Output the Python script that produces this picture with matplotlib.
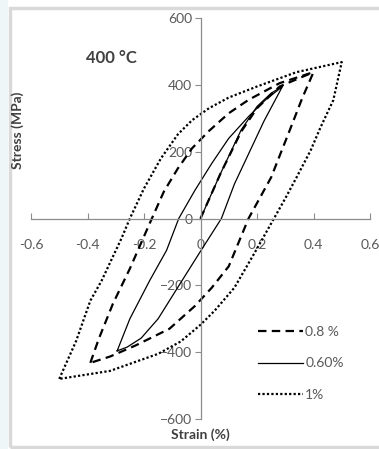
import matplotlib
matplotlib.use('Agg')
from matplotlib import pyplot as plt
from matplotlib.patches import Rectangle

plt.rcParams['font.family'] = ['Lato', 'DejaVu Sans']

# 0.60 % loop (solid)
solid_init_x = [0.0, 0.07, 0.144, 0.2, 0.25, 0.29]
solid_init_y = [0, 133, 265, 335, 375, 395]
solid_up_x = [-0.295, -0.25, -0.18, -0.12, -0.077, -0.02, 0.04, 0.1, 0.17, 0.23, 0.29]
solid_up_y = [-396, -300, -186, -95, 0, 84, 165, 240, 305, 355, 395]
solid_dn_x = [0.29, 0.225, 0.12, 0.074, 0.0, -0.067, -0.15, -0.21, -0.26, -0.295]
solid_dn_y = [395, 292, 103, 0, -98, -188, -300, -358, -385, -396]

# 0.8 % loop (dashed)
dash_init_x = [0.0, 0.07, 0.144, 0.2, 0.28, 0.4]
dash_init_y = [0, 133, 260, 330, 395, 438]
dash_up_x = [-0.39, -0.36, -0.31, -0.25, -0.18, -0.13, -0.08, -0.03, 0.03, 0.1, 0.17, 0.28, 0.40]
dash_up_y = [-432, -360, -255, -150, -15, 80, 150, 210, 262, 315, 355, 405, 438]
dash_dn_x = [0.40, 0.36, 0.32, 0.25, 0.17, 0.1, 0.04, -0.02, -0.11, -0.23, -0.32, -0.39]
dash_dn_y = [438, 360, 273, 123, 0, -143, -207, -262, -330, -380, -413, -432]

# 1 % loop (dotted)
dot_up_x = [-0.50, -0.44, -0.39, -0.35, -0.28, -0.25, -0.2, -0.14, -0.08, -0.03, 0.03, 0.1, 0.2, 0.34, 0.50]
dot_up_y = [-480, -366, -246, -186, -60, 0, 90, 180, 252, 294, 330, 362, 395, 438, 468]
dot_dn_x = [0.50, 0.47, 0.425, 0.39, 0.34, 0.30, 0.26, 0.19, 0.12, 0.05, 0.0, -0.07, -0.15, -0.32, -0.50]
dot_dn_y = [468, 354, 273, 204, 123, 60, 0, -105, -207, -276, -318, -368, -405, -456, -480]

labels = ['0.8 %', '0.60%', '1%']

fig = plt.figure(figsize=(3.79, 4.49), dpi=100)
# chart area border like the spreadsheet export
fig.patches.append(Rectangle((0, 0), 8 / 379, 1, transform=fig.transFigure,
                             facecolor='#eef6f8', edgecolor='none', zorder=0))
fig.patches.append(Rectangle((10 / 379, 2 / 449), 1.0, 1 - 10 / 449, transform=fig.transFigure,
                             facecolor='none', edgecolor='#d9d9d9', lw=2.5, zorder=0))

ax = fig.add_axes([31 / 379, 30 / 449, 339 / 379, 401 / 449])
ax.set_xlim(-0.6, 0.6)
ax.set_ylim(-600, 600)

dash_style = (0, (3.8, 2.4))
dot_style = (0, (1, 1))

ax.plot(dash_up_x + dash_dn_x, dash_up_y + dash_dn_y, color='black', lw=1.6, ls=dash_style, label=labels[0])
ax.plot(dash_init_x, dash_init_y, color='black', lw=1.6, ls=dash_style)
ax.plot(solid_up_x + solid_dn_x, solid_up_y + solid_dn_y, color='black', lw=0.9, label=labels[1])
ax.plot(solid_init_x, solid_init_y, color='black', lw=0.9)
ax.plot(dot_up_x + dot_dn_x, dot_up_y + dot_dn_y, color='black', lw=1.6, ls=dot_style, label=labels[2])

for s in ['top', 'right']:
    ax.spines[s].set_visible(False)
for s in ['left', 'bottom']:
    ax.spines[s].set_position(('data', 0))
    ax.spines[s].set_color('#8c8c8c')
    ax.spines[s].set_linewidth(0.9)

ax.set_xticks([-0.6, -0.4, -0.2, 0, 0.2, 0.4, 0.6])
ax.set_xticklabels(['-0.6', '-0.4', '-0.2', '0', '0.2', '0.4', '0.6'])
ax.set_yticks([-600, -400, -200, 0, 200, 400, 600])
ax.tick_params(axis='x', direction='in', length=4, pad=15, colors='#8c8c8c', labelcolor='#595959', labelsize=10)
ax.tick_params(axis='y', direction='out', length=4, pad=2, colors='#8c8c8c', labelcolor='#595959', labelsize=10)
ax.patch.set_alpha(0)

ax.legend(loc='upper left', bbox_to_anchor=(0.67, 0.232), frameon=False, fontsize=10,
          handlelength=3.2, handletextpad=0.2, labelspacing=1.4, borderpad=0, borderaxespad=0,
          labelcolor='#595959')

fig.text(86 / 379, 1 - 58 / 449, '400 \u00b0C', fontsize=12, fontweight='bold', color='#404040', va='center')
fig.text(18 / 379, 1 - 130 / 449, 'Stress (MPa)', rotation=90, fontsize=10, fontweight='bold',
         color='#404040', ha='center', va='center')
fig.text(200 / 379, 1 - 435 / 449, 'Strain (%)', fontsize=10, fontweight='bold',
         color='#404040', ha='center', va='center')

fig.savefig('out.png', dpi=100)
